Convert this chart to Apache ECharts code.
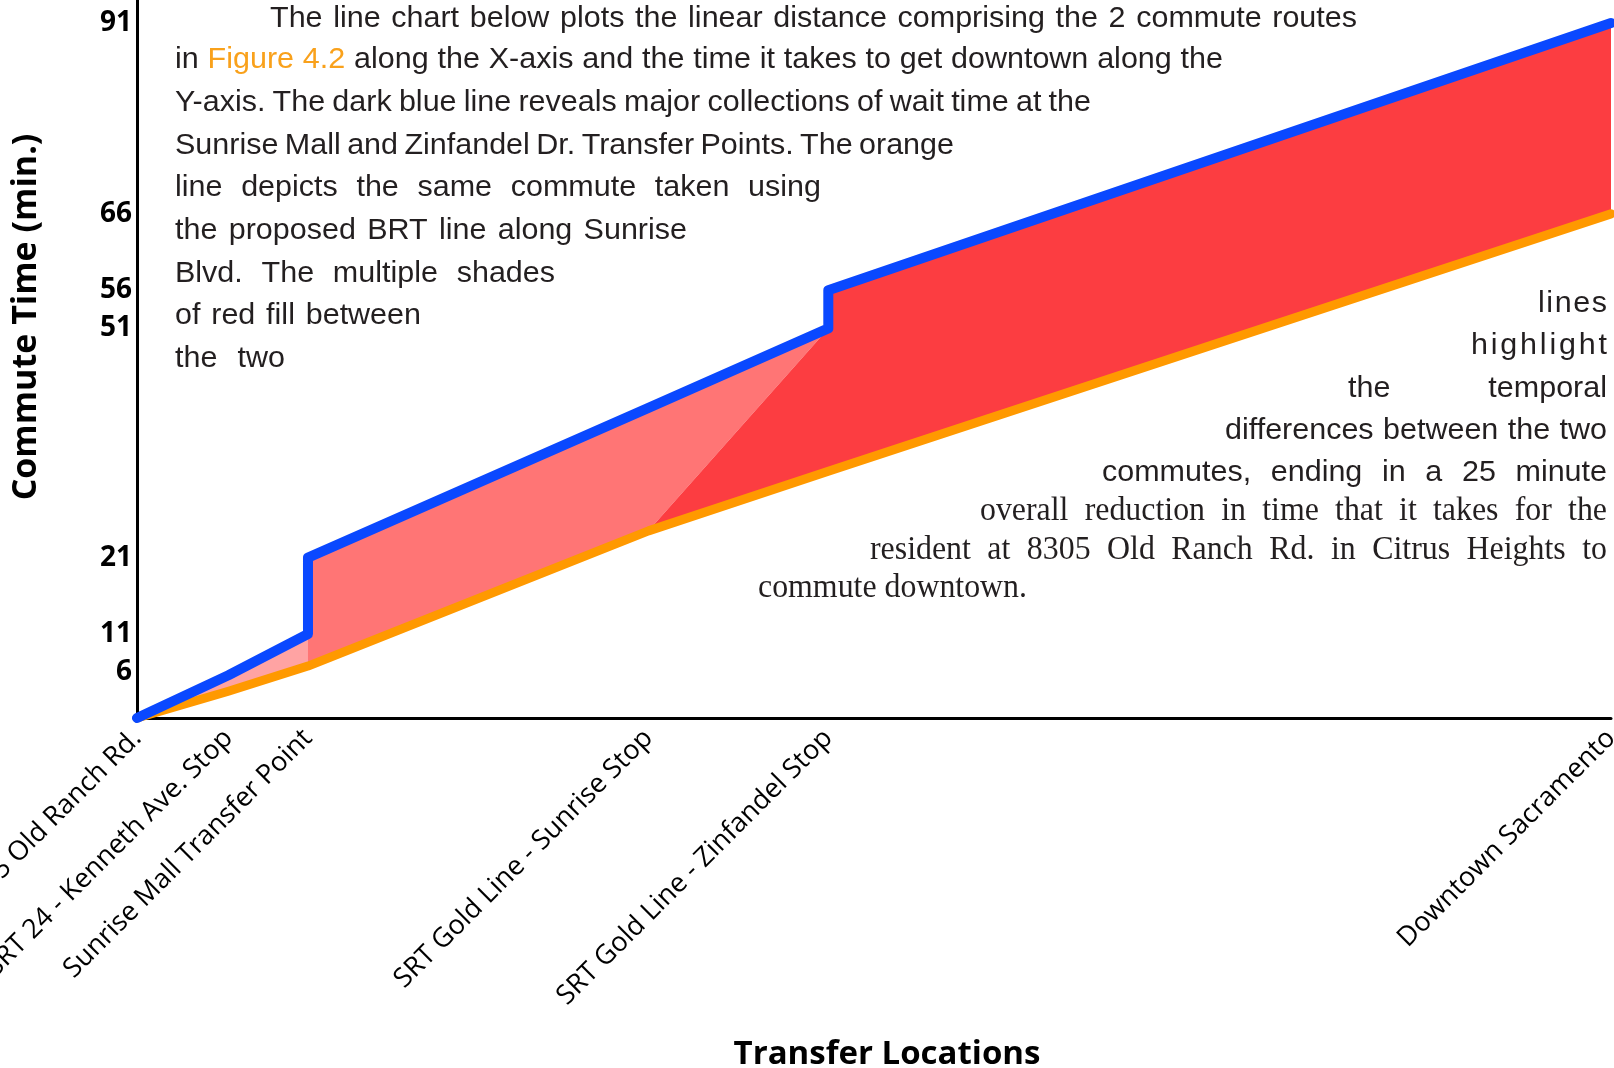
<!DOCTYPE html>
<html><head><meta charset="utf-8">
<script src="https://cdn.jsdelivr.net/npm/echarts@6/dist/echarts.min.js"></script>
<style>html,body{margin:0;padding:0;background:#fff}#c{width:1614px;height:1068px}</style>
</head><body><div id="c"></div>
<script>
// ---- data ----
const locations = ['8305 Old Ranch Rd.', 'SRT 24 - Kenneth Ave. Stop', 'Sunrise Mall Transfer Point',
  'SRT Gold Line - Sunrise Stop', 'SRT Gold Line - Zinfandel Stop', 'Downtown Sacramento'];
const distances = [0, 0.62, 1.16, 3.47, 4.69, 10];
const currentArrive = [0, 5.6, 11, 40.6, 51, 91];   // dark blue line, arrival at each stop
const currentDepart = [0, 5.6, 21, 40.6, 56, 91];   // dark blue line, departure after waiting
const brtTimes = [0, 3.5, 6.8, 24.5, 32.3, 66];     // orange line (proposed BRT)
const yTicks = [6, 11, 21, 51, 56, 66, 91];

// ---- series geometry built from the data ----
const bluePts = [];
distances.forEach((d, i) => {
  bluePts.push([d, currentArrive[i]]);
  if (currentDepart[i] !== currentArrive[i]) bluePts.push([d, currentDepart[i]]);
});
const orangePts = distances.map((d, i) => [d, brtTimes[i]]);

const P = (i, arr) => [distances[i], arr[i]];
const regions = [
  { color: '#FFA3A3', pts: [P(0, currentArrive), P(1, currentArrive), P(2, currentArrive), P(2, brtTimes), P(1, brtTimes), P(0, brtTimes)] },
  { color: '#FF7575', pts: [P(2, brtTimes), P(2, currentArrive), P(2, currentDepart), P(3, currentDepart), P(4, currentArrive), P(3, brtTimes)] },
  { color: '#FC3D41', pts: [P(3, brtTimes), P(4, currentArrive), P(4, currentDepart), P(5, currentDepart), P(5, brtTimes), P(4, brtTimes)] }
];

// ---- text layout helpers ----
const ctx = document.createElement('canvas').getContext('2d');
function tw(s, font) { ctx.font = font; return ctx.measureText(s).width; }
const INK = '#231F20', ORANGE = '#F9A11B';
const SANS = '29px "Liberation Sans Narrow", "Liberation Sans", sans-serif';
const SERIF = '34px "Liberation Serif", serif';

const sansLines = [
  { t: 'The line chart below plots the linear distance comprising the 2 commute routes', x0: 270, x1: 1357, y: 18.5, ref: true },
  { t: 'in Figure 4.2 along the X-axis and the time it takes to get downtown along the', x0: 175, x1: 1223, y: 60, ref: true, hl: ['Figure', '4.2'] },
  { t: 'Y-axis. The dark blue line reveals major collections of wait time at the', x0: 175, x1: 1091, y: 103, ref: true },
  { t: 'Sunrise Mall and Zinfandel Dr. Transfer Points. The orange', x0: 175, x1: 954, y: 146, ref: true },
  { t: 'line depicts the same commute taken using', x0: 175, x1: 821, y: 188 },
  { t: 'the proposed BRT line along Sunrise', x0: 175, x1: 687, y: 230.5 },
  { t: 'Blvd. The multiple shades', x0: 175, x1: 555, y: 273.5 },
  { t: 'of red fill between', x0: 175, x1: 421, y: 315.5 },
  { t: 'the two', x0: 175, x1: 285, y: 358.5 },
  { t: 'lines', x0: 1538, x1: 1607, y: 304, letters: true },
  { t: 'highlight', x0: 1471, x1: 1607, y: 346, letters: true },
  { t: 'the temporal', x0: 1348, x1: 1607, y: 389 },
  { t: 'differences between the two', x0: 1225, x1: 1607, y: 431 },
  { t: 'commutes, ending in a 25 minute', x0: 1102, x1: 1607, y: 473 }
];
const serifLines = [
  { t: 'overall reduction in time that it takes for the', x0: 980, x1: 1607, y: 511 },
  { t: 'resident at 8305 Old Ranch Rd. in Citrus Heights to', x0: 870, x1: 1607, y: 550.5 },
  { t: 'commute downtown.', x0: 758, x1: 1027, y: 588.5, ref: true, left: true }
];

function scaleFor(lines, font) {
  let a = 0, b = 0;
  lines.filter(l => l.ref).forEach(l => { a += l.x1 - l.x0; b += tw(l.t, font); });
  return a / b;
}
function place(lines, font, k, out) {
  lines.forEach(l => {
    const words = l.letters ? l.t.split('') : l.t.split(/\s+/);
    const ws = words.map(s => tw(s, font) * k);
    const sum = ws.reduce((p, q) => p + q, 0);
    const gap = (l.left || words.length === 1) ? tw(' ', font) * k : (l.x1 - l.x0 - sum) / (words.length - 1);
    let x = l.x0;
    words.forEach((s, i) => {
      out.push({
        type: 'text', x: x, y: l.y, scaleX: k, scaleY: 1, silent: true, z: 10,
        style: { text: s, font: font, fill: (l.hl && l.hl.includes(s)) ? ORANGE : INK, textAlign: 'left', textVerticalAlign: 'middle' }
      });
      x += ws[i] + gap;
    });
  });
}
const graphics = [];
place(sansLines, SANS, scaleFor(sansLines, SANS), graphics);
place(serifLines, SERIF, scaleFor(serifLines, SERIF), graphics);

// ---- chart ----
const chart = echarts.init(document.getElementById('c'));
chart.setOption({
  animation: false,
  backgroundColor: '#fff',
  grid: { left: 137, right: 3, top: 0, bottom: 350, containLabel: false, outerBoundsMode: 'none' },
  xAxis: {
    type: 'value', min: 0, max: 10,
    name: 'Transfer Locations', nameLocation: 'middle', nameGap: 320,
    nameTextStyle: { fontFamily: 'Open Sans', fontWeight: 'bold', fontSize: 33, color: '#000', padding: [0, 0, 0, 26] },
    axisLine: { show: true, lineStyle: { color: '#000', width: 3 } },
    axisTick: { show: false },
    splitLine: { show: false },
    axisLabel: {
      customValues: distances, rotate: 45, margin: 16,
      fontFamily: 'Open Sans', fontSize: 27, color: '#000',
      formatter: v => { let bi = 0; distances.forEach((d, i) => { if (Math.abs(d - v) < Math.abs(distances[bi] - v)) bi = i; }); return locations[bi]; }
    }
  },
  yAxis: {
    type: 'value', min: 0, max: 94,
    name: 'Commute Time (min.)', nameLocation: 'middle', nameGap: 94,
    nameTextStyle: { fontFamily: 'Open Sans', fontWeight: 'bold', fontSize: 34, color: '#000', padding: [0, 0, 0, 84] },
    axisLine: { show: true, lineStyle: { color: '#000', width: 3 } },
    axisTick: { show: false },
    splitLine: { show: false },
    axisLabel: { customValues: yTicks, margin: 5, padding: [6, 0, 0, 0], fontFamily: 'Open Sans', fontWeight: 'bold', fontSize: 28, color: '#000' }
  },
  graphic: { elements: graphics },
  series: [
    {
      type: 'custom', z: 1, clip: false,
      data: regions.map((r, i) => [i, 0]),
      renderItem: (params, api) => {
        const r = regions[params.dataIndex];
        return { type: 'polygon', shape: { points: r.pts.map(p => api.coord(p)) }, style: { fill: r.color } };
      }
    },
    {
      type: 'line', name: 'BRT', data: orangePts, symbol: 'none', clip: false, z: 3,
      lineStyle: { color: '#FF9900', width: 9, join: 'round', cap: 'round' }
    },
    {
      type: 'line', name: 'Current', data: bluePts, symbol: 'none', clip: false, z: 4,
      lineStyle: { color: '#0A48FF', width: 10, join: 'round', cap: 'round' }
    }
  ]
});
</script></body></html>
